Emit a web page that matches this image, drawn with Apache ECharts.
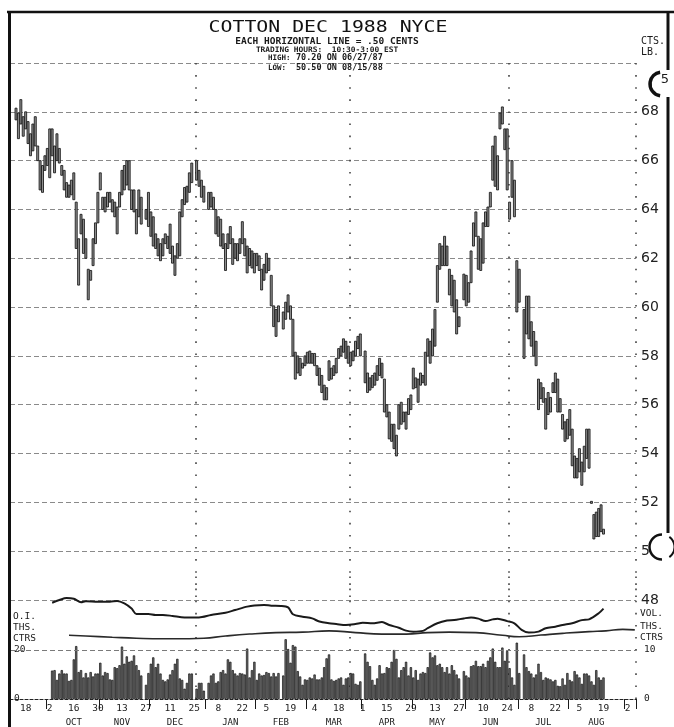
<!DOCTYPE html>
<html><head><meta charset="utf-8">
<script src="https://cdn.jsdelivr.net/npm/echarts/dist/echarts.min.js"></script>
<style>html,body{margin:0;padding:0;background:#fff}#c{width:674px;height:727px}</style>
</head><body><div id="c"></div>
<script>
// ---- categories: every weekday (trading-day slot) on the chart ----
const firstDay = '1987-09-10';
const slotCount = 260;
const categories = [];
(function(){ const d = new Date(firstDay + 'T00:00:00Z');
  while (categories.length < slotCount) { const w = d.getUTCDay();
    if (w !== 0 && w !== 6) categories.push(d.toISOString().slice(0,10));
    d.setUTCDate(d.getUTCDate()+1); } })();
const slot = s => categories.indexOf(s);

// ---- tick labels ----
const dateTicks = ['1987-09-18','1987-10-02','1987-10-16','1987-10-30','1987-11-13','1987-11-27','1987-12-11','1987-12-25','1988-01-08','1988-01-22','1988-02-05','1988-02-19','1988-03-04','1988-03-18','1988-04-01','1988-04-15','1988-04-29','1988-05-13','1988-05-27','1988-06-10','1988-06-24','1988-07-08','1988-07-22','1988-08-05','1988-08-19','1988-09-02'];
const monthStarts = ['1987-10-01','1987-11-02','1987-12-01','1988-01-01','1988-02-01','1988-03-01','1988-04-01','1988-05-02','1988-06-01','1988-07-01','1988-08-01','1988-09-01'];
const monthNames = ['OCT','NOV','DEC','JAN','FEB','MAR','APR','MAY','JUN','JUL','AUG'];
const monthMids = ['1987-10-16','1987-11-13','1987-12-15','1988-01-15','1988-02-15','1988-03-16','1988-04-15','1988-05-16','1988-06-15','1988-07-15','1988-08-16'];
const quarterLines = ['1987-12-28','1988-03-25','1988-06-27'];
const priceTicks = [48,50,52,54,56,58,60,62,64,66,68];

// ---- daily price range (cents/lb), first bar 1987-09-14, null = holiday ----
const priceStart = '1987-09-14';
const priceHigh = [
 68.15,67.95,68.5,67.8,68.0,67.6,67.1,67.5,67.8,66.6,
 66.0,65.8,66.2,66.5,67.3,67.3,66.6,67.1,66.5,65.8,
 65.6,65.1,65.0,65.2,65.5,64.3,62.8,63.8,63.6,62.8,
 61.55,61.5,62.8,63.45,64.7,65.5,64.5,64.5,64.7,64.7,
 64.4,64.3,64.1,64.7,65.6,65.8,66.0,66.0,64.8,64.8,
 64.0,64.8,64.5,null,64.0,64.7,63.9,63.7,63.0,62.8,
 62.6,62.8,63.0,62.9,63.4,62.5,62.1,62.6,63.9,64.4,
 64.9,64.95,65.5,65.9,null,66.0,65.6,65.2,64.95,null,
 64.7,64.7,64.5,64.0,63.7,63.6,63.0,62.6,63.0,63.3,
 62.8,62.6,62.6,62.8,63.5,62.8,62.5,62.4,62.3,62.2,
 62.2,62.1,61.55,61.75,62.2,62.0,61.3,60.05,59.9,60.05,
 null,59.8,60.2,60.5,60.05,59.5,58.15,58.0,57.9,57.7,
 58.0,58.15,58.2,58.1,58.1,57.6,57.5,57.2,56.8,56.7,
 57.8,57.5,57.6,57.9,58.3,58.4,58.7,58.6,58.4,58.15,
 58.2,58.6,58.8,58.9,null,58.2,57.3,57.1,57.2,57.3,
 57.6,57.9,57.7,57.05,56.0,55.7,55.2,55.2,54.75,56.0,
 56.1,55.7,55.7,56.25,56.4,57.5,57.1,57.05,57.3,57.2,
 58.15,58.7,58.6,59.1,59.9,61.7,62.6,62.5,62.9,62.5,
 61.55,61.3,61.1,60.3,59.6,null,61.35,61.3,61.0,62.3,
 63.45,63.9,62.9,62.8,63.45,63.9,64.1,64.7,66.6,67.0,
 66.2,67.95,68.2,67.3,67.3,64.3,66.0,65.2,61.9,61.55,
 null,59.9,60.45,60.45,59.4,59.0,58.6,57.05,56.9,56.7,
 56.25,56.5,56.3,56.9,57.3,57.05,56.25,55.6,55.3,55.4,
 55.8,55.0,53.9,53.8,54.2,53.65,54.3,55.0,55.0,52.0,
 51.5,51.6,51.75,51.9,50.9];
const priceLow = [
 67.67,66.9,67.5,67.0,67.3,66.7,66.2,66.4,66.6,66.0,
 64.8,64.7,65.6,65.8,65.3,66.2,65.5,66.0,65.9,65.4,
 64.8,64.5,64.5,64.6,64.4,62.4,60.9,63.0,62.2,62.0,
 60.3,61.1,61.7,62.6,63.45,64.8,64.0,63.9,64.1,64.3,
 63.9,63.7,63.0,64.1,64.6,64.8,65.0,64.8,64.0,63.9,
 63.0,63.7,63.4,null,63.6,63.3,62.9,62.5,62.4,62.1,
 61.9,62.1,62.6,62.4,62.2,61.8,61.3,62.0,62.1,63.7,
 64.2,64.3,64.7,65.1,null,65.2,64.95,64.5,64.3,null,
 64.0,64.1,64.0,63.0,62.9,62.5,62.4,61.5,62.4,62.6,
 61.75,62.0,61.9,62.2,62.6,62.1,61.4,61.7,61.6,61.4,
 61.7,61.5,60.7,61.1,61.4,61.5,60.05,59.2,58.8,59.4,
 null,59.1,59.5,59.8,59.5,58.0,57.05,57.3,57.2,57.5,
 57.6,57.7,57.7,57.7,57.6,57.2,56.8,56.5,56.2,56.2,
 57.0,57.05,57.2,57.3,57.9,58.0,58.15,57.9,57.7,57.6,
 57.8,58.0,58.3,58.0,null,56.9,56.5,56.6,56.7,56.8,
 57.0,57.2,57.1,55.7,55.5,54.6,54.5,54.2,53.9,55.0,
 55.2,55.3,55.0,55.6,55.8,56.65,56.7,56.1,56.8,56.9,
 56.8,58.0,57.7,58.0,58.4,60.2,61.55,61.7,61.7,61.7,
 60.5,60.05,59.8,58.9,59.2,null,60.3,60.05,60.2,61.0,
 62.5,62.9,61.55,61.5,61.8,63.3,63.3,64.1,65.2,64.95,
 64.8,67.3,67.5,66.45,64.8,63.6,64.5,63.7,59.8,60.2,
 null,57.9,58.9,58.7,58.4,58.0,57.6,55.8,56.25,56.1,
 55.0,55.6,55.7,56.5,56.5,55.7,55.7,55.0,54.5,54.6,
 54.75,53.5,53.0,53.0,53.25,52.7,53.25,53.8,53.4,52.0,
 50.5,50.6,50.6,50.8,50.7];

// ---- daily volume (thousand contracts), first bar 1987-10-05 ----
const volStart = '1987-10-05';
const volume = [
 5.8,5.9,3.9,5.2,5.9,5.2,5.2,3.7,3.9,8.1,
 10.8,5.5,5.9,4.4,5.3,4.4,5.5,4.6,5.2,5.2,
 7.4,4.8,5.5,5.3,4.0,3.9,6.5,6.3,6.9,10.7,
 7.2,8.7,7.6,7.8,8.9,6.9,5.9,4.8,null,2.9,
 5.3,7.2,8.5,6.5,7.2,5.2,3.9,3.6,4.0,5.0,
 5.9,7.2,8.2,4.2,3.9,2.1,3.3,5.2,5.2,null,
 2.1,3.3,3.3,1.7,null,3.3,4.8,5.2,3.3,3.6,
 5.5,5.9,5.2,8.1,7.6,5.9,5.2,4.8,5.3,5.2,
 5.0,10.3,4.4,5.9,7.6,3.9,5.2,4.8,4.9,5.5,
 5.3,4.6,5.3,4.6,5.3,null,4.8,12.2,10.2,7.4,
 11.0,10.7,5.7,4.6,2.9,4.0,3.9,4.4,4.2,5.0,
 4.0,4.0,4.4,6.5,8.3,9.1,4.0,3.7,3.9,4.2,
 4.4,2.9,4.2,4.4,5.3,5.2,3.1,2.9,3.6,null,
 9.3,7.6,6.7,3.9,2.9,4.2,6.9,5.2,5.3,6.5,
 6.3,7.6,10.0,8.2,4.4,5.9,6.5,7.6,4.8,6.5,
 4.4,5.9,3.9,5.2,5.5,5.3,6.5,9.5,8.5,8.9,
 6.9,7.2,6.5,5.5,6.5,5.2,6.9,5.9,5.0,4.2,
 null,5.7,4.8,4.4,6.7,6.9,7.8,6.7,6.7,7.2,
 6.5,7.8,8.5,10.3,7.6,6.5,6.5,10.5,7.8,9.8,
 6.3,4.4,2.9,11.5,5.3,null,9.1,6.5,5.7,5.2,
 4.4,5.0,7.2,5.5,3.9,4.4,4.2,4.0,3.6,3.9,
 2.7,2.6,4.2,2.9,5.3,3.9,3.6,5.7,5.0,4.4,
 3.1,5.2,5.2,4.8,3.6,2.9,5.9,4.4,3.9,4.4];

// ---- open interest (thousand contracts), read at slot indices ----
const oiSlot = [17,20,23,26,29,31,36,41,44,47,50,52,57,60,63,67,72,78,83,89,93,98,101,105,108,112,115,117,121,125,128,132,135,139,143,146,150,154,157,161,164,167,171,173,177,181,184,188,191,194,197,200,202,206,209,212,215,219,222,226,229,233,237,240,244,246];
const oiValue = [39.3,40.4,41.2,40.9,39.5,39.9,39.7,39.7,40.0,39.0,36.9,34.7,34.7,34.3,34.3,33.9,33.3,33.3,34.3,35.2,36.3,37.7,38.2,38.4,38.1,38.0,37.4,34.6,33.6,32.9,31.6,30.9,30.6,30.2,30.6,31.1,30.9,31.4,30.2,29.1,27.9,27.5,27.8,28.9,30.9,32.0,32.2,32.9,33.3,32.8,31.8,32.5,32.8,31.8,30.9,28.2,27.1,27.5,28.9,29.5,30.2,30.9,32.2,32.5,35.0,36.9];
// second (smooth) open-interest curve
const oi2Slot = [24,31,42,52,63,74,80,89,99,110,121,132,143,154,164,173,182,193,204,211,220,229,240,247,254,259];
const oi2Value = [26.0,25.7,25.2,24.8,24.6,24.6,24.8,25.7,26.5,27.1,27.3,27.8,27.1,26.5,26.5,27.1,27.3,27.1,26.0,25.4,26.1,26.8,27.5,27.8,28.4,28.2];

// ---- build series data ----
const p0 = slot(priceStart);
const priceData = [];
priceHigh.forEach((h,i)=>{ if (h!=null) priceData.push([p0+i, h, priceLow[i]]); });
const v0 = slot(volStart);
const volData = categories.map((c,i)=>{ const k=i-v0; return (k>=0 && k<volume.length) ? volume[k] : null; });
const oiData = oiSlot.map((s,i)=>[s, oiValue[i]]);
const oi2Data = oi2Slot.map((s,i)=>[s, oi2Value[i]]);

const dateTickSet = new Set(dateTicks);
const monthStartSet = new Set(monthStarts);
const monthMidMap = {}; monthMids.forEach((d,i)=>monthMidMap[d]=monthNames[i]);
const qSet = new Set(quarterLines);
const MONO = '"DejaVu Sans Mono", monospace';

const vDots = {show:true, interval:(i,v)=>qSet.has(v), lineStyle:{color:'#444', width:1.6, type:[1.6,10.5]}};

const chart = echarts.init(document.getElementById('c'), null, {renderer:'canvas'});
function txt(x,y,t,o){ o=o||{}; return {type:'text', x:x, y:y, scaleX:o.sx||1, z:100,
  style:{text:t, fontFamily:o.ff||MONO, fontSize:o.fs||9, fontWeight:o.fw||'normal', fill:o.fill||'#1a1a1a',
  align:o.align||'left', verticalAlign:'middle'}}; }

chart.setOption({
  animation:false,
  backgroundColor:'#ffffff',
  grid:[
    {left:10, top:63, width:626, height:537, outerBoundsMode:'none'},
    {left:10, top:576.5, width:626, height:122.5, outerBoundsMode:'none'}
  ],
  xAxis:[
    {type:'category', gridIndex:0, data:categories, boundaryGap:true,
     axisLine:{show:false}, axisTick:{show:false}, axisLabel:{show:false}, splitLine:vDots},
    {type:'category', gridIndex:1, data:categories, boundaryGap:true,
     axisLine:{show:true, lineStyle:{color:'#222', width:1.2, type:[3,2]}}, axisTick:{show:false},
     axisLabel:{interval:(i,v)=>dateTickSet.has(v), formatter:v=>String(+v.slice(8)),
       fontFamily:MONO, fontSize:9.5, color:'#1a1a1a', margin:5, hideOverlap:false},
     splitLine:vDots},
    {type:'category', gridIndex:1, data:categories, boundaryGap:true, position:'bottom', offset:16,
     axisLine:{show:false},
     axisTick:{show:true, interval:(i,v)=>monthStartSet.has(v), length:10, lineStyle:{color:'#1a1a1a', width:1}},
     axisLabel:{interval:(i,v)=>monthMidMap[v]!==undefined, formatter:v=>monthMidMap[v]||'',
       fontFamily:MONO, fontSize:9, color:'#1a1a1a', margin:3, hideOverlap:false},
     splitLine:{show:false}}
  ],
  yAxis:[
    {type:'value', gridIndex:0, position:'right', min:48, max:70, interval:2,
     axisLine:{show:false}, axisTick:{show:false},
     axisLabel:{formatter:v=>priceTicks.indexOf(v)>=0?String(v):'', fontFamily:'"DejaVu Sans", sans-serif', fontSize:14, color:'#222', margin:5},
     splitLine:{show:true, lineStyle:{color:'#8a8a8a', width:1, type:[5,3]}}},
    {type:'value', gridIndex:1, position:'right', min:0, max:25, interval:5,
     axisLine:{show:false}, axisTick:{show:false},
     axisLabel:{formatter:v=>(v===0||v===10)?String(v):'', fontFamily:MONO, fontSize:9.5, color:'#1a1a1a', margin:8},
     splitLine:{show:false}},
    {type:'value', gridIndex:1, position:'left', min:0, max:50, interval:10,
     axisLine:{show:false}, axisTick:{show:false},
     axisLabel:{inside:true, formatter:v=>(v===0||v===20)?String(v):'', fontFamily:MONO, fontSize:9.5, color:'#1a1a1a', margin:4},
     splitLine:{show:false}}
  ],
  series:[
    {type:'custom', name:'price', xAxisIndex:0, yAxisIndex:0, data:priceData, encode:{x:0, y:[1,2]},
     renderItem:function(params, api){
       const top = api.coord([api.value(0), api.value(1)]);
       const bot = api.coord([api.value(0), api.value(2)]);
       const w = 2.0; let h = bot[1]-top[1]; let y = top[1];
       if (h < 2) { y -= 1; h = 2; }
       return {type:'rect', shape:{x:top[0]-w/2, y:y, width:w, height:h},
         style:{fill:'#8e8e8e', stroke:'#151515', lineWidth:0.85}};
     }},
    {type:'bar', name:'volume', xAxisIndex:1, yAxisIndex:1, data:volData, barWidth:2.3,
     itemStyle:{color:'#6f6f6f', borderColor:'#111', borderWidth:0.7},
     markLine:{silent:true, symbol:['none','none'], label:{show:false},
       lineStyle:{color:'#7a7a7a', width:1, type:[5,3]}, data:[{yAxis:10}]}},
    {type:'line', name:'open interest', xAxisIndex:1, yAxisIndex:2, data:oiData, showSymbol:false, symbol:'none',
     smooth:0.3, lineStyle:{color:'#1a1a1a', width:2}},
    {type:'line', name:'open interest 2', xAxisIndex:1, yAxisIndex:2, data:oi2Data, showSymbol:false, symbol:'none',
     smooth:0.5, lineStyle:{color:'#2a2a2a', width:1.6}}
  ],
  graphic:[
    {type:'line', z:90, shape:{x1:7,y1:12,x2:674,y2:12}, style:{stroke:'#111', lineWidth:2.5}},
    {type:'line', z:90, shape:{x1:9.5,y1:11,x2:9.5,y2:727}, style:{stroke:'#111', lineWidth:3}},
    {type:'line', z:90, shape:{x1:668,y1:13,x2:668,y2:70}, style:{stroke:'#111', lineWidth:3}},
    {type:'line', z:90, shape:{x1:668,y1:97,x2:668,y2:533}, style:{stroke:'#111', lineWidth:3}},
    {type:'arc', z:90, shape:{cx:662, cy:84, r:12, startAngle:Math.PI*0.55, endAngle:Math.PI*1.45}, style:{stroke:'#111', lineWidth:3.5, fill:null}},
    {type:'circle', z:95, shape:{cx:662, cy:547, r:12.5}, style:{fill:'#fff', stroke:null}},
    {type:'arc', z:96, shape:{cx:662, cy:547, r:12.5, startAngle:Math.PI*0.5, endAngle:Math.PI*1.5}, style:{stroke:'#111', lineWidth:2.5, fill:null}},
    {type:'arc', z:96, shape:{cx:662, cy:547, r:12.5, startAngle:-Math.PI*0.3, endAngle:Math.PI*0.3}, style:{stroke:'#111', lineWidth:2, fill:null}},
    txt(665, 80, '5', {ff:'"DejaVu Sans", sans-serif', fs:13, align:'center'}),
    txt(328, 28, 'COTTON DEC 1988 NYCE', {fs:16, sx:1.24, align:'center', fill:'#111'}),
    txt(327, 42, 'EACH HORIZONTAL LINE = .50 CENTS', {fs:8.5, fw:'bold', sx:1.12, align:'center'}),
    txt(327, 50, 'TRADING HOURS:  10:30-3:00 EST', {fs:7.5, fw:'bold', sx:1.05, align:'center'}),
    txt(268, 58, 'HIGH:', {fs:7.5, fw:'bold'}),
    txt(296, 58, '70.20 ON 06/27/87', {fs:8, fw:'bold', sx:1.06}),
    txt(268, 68, 'LOW:', {fs:7.5, fw:'bold'}),
    txt(296, 68, '50.50 ON 08/15/88', {fs:8, fw:'bold', sx:1.06}),
    txt(641, 41, 'CTS.', {fs:10}),
    txt(641, 52, 'LB.', {fs:10}),
    txt(13, 617, 'O.I.', {fs:9.5}),
    txt(13, 628, 'THS.', {fs:9.5}),
    txt(13, 639, 'CTRS', {fs:9.5}),
    txt(640, 614, 'VOL.', {fs:9.5}),
    txt(640, 627, 'THS.', {fs:9.5}),
    txt(640, 638, 'CTRS', {fs:9.5})
  ]
});
</script></body></html>
